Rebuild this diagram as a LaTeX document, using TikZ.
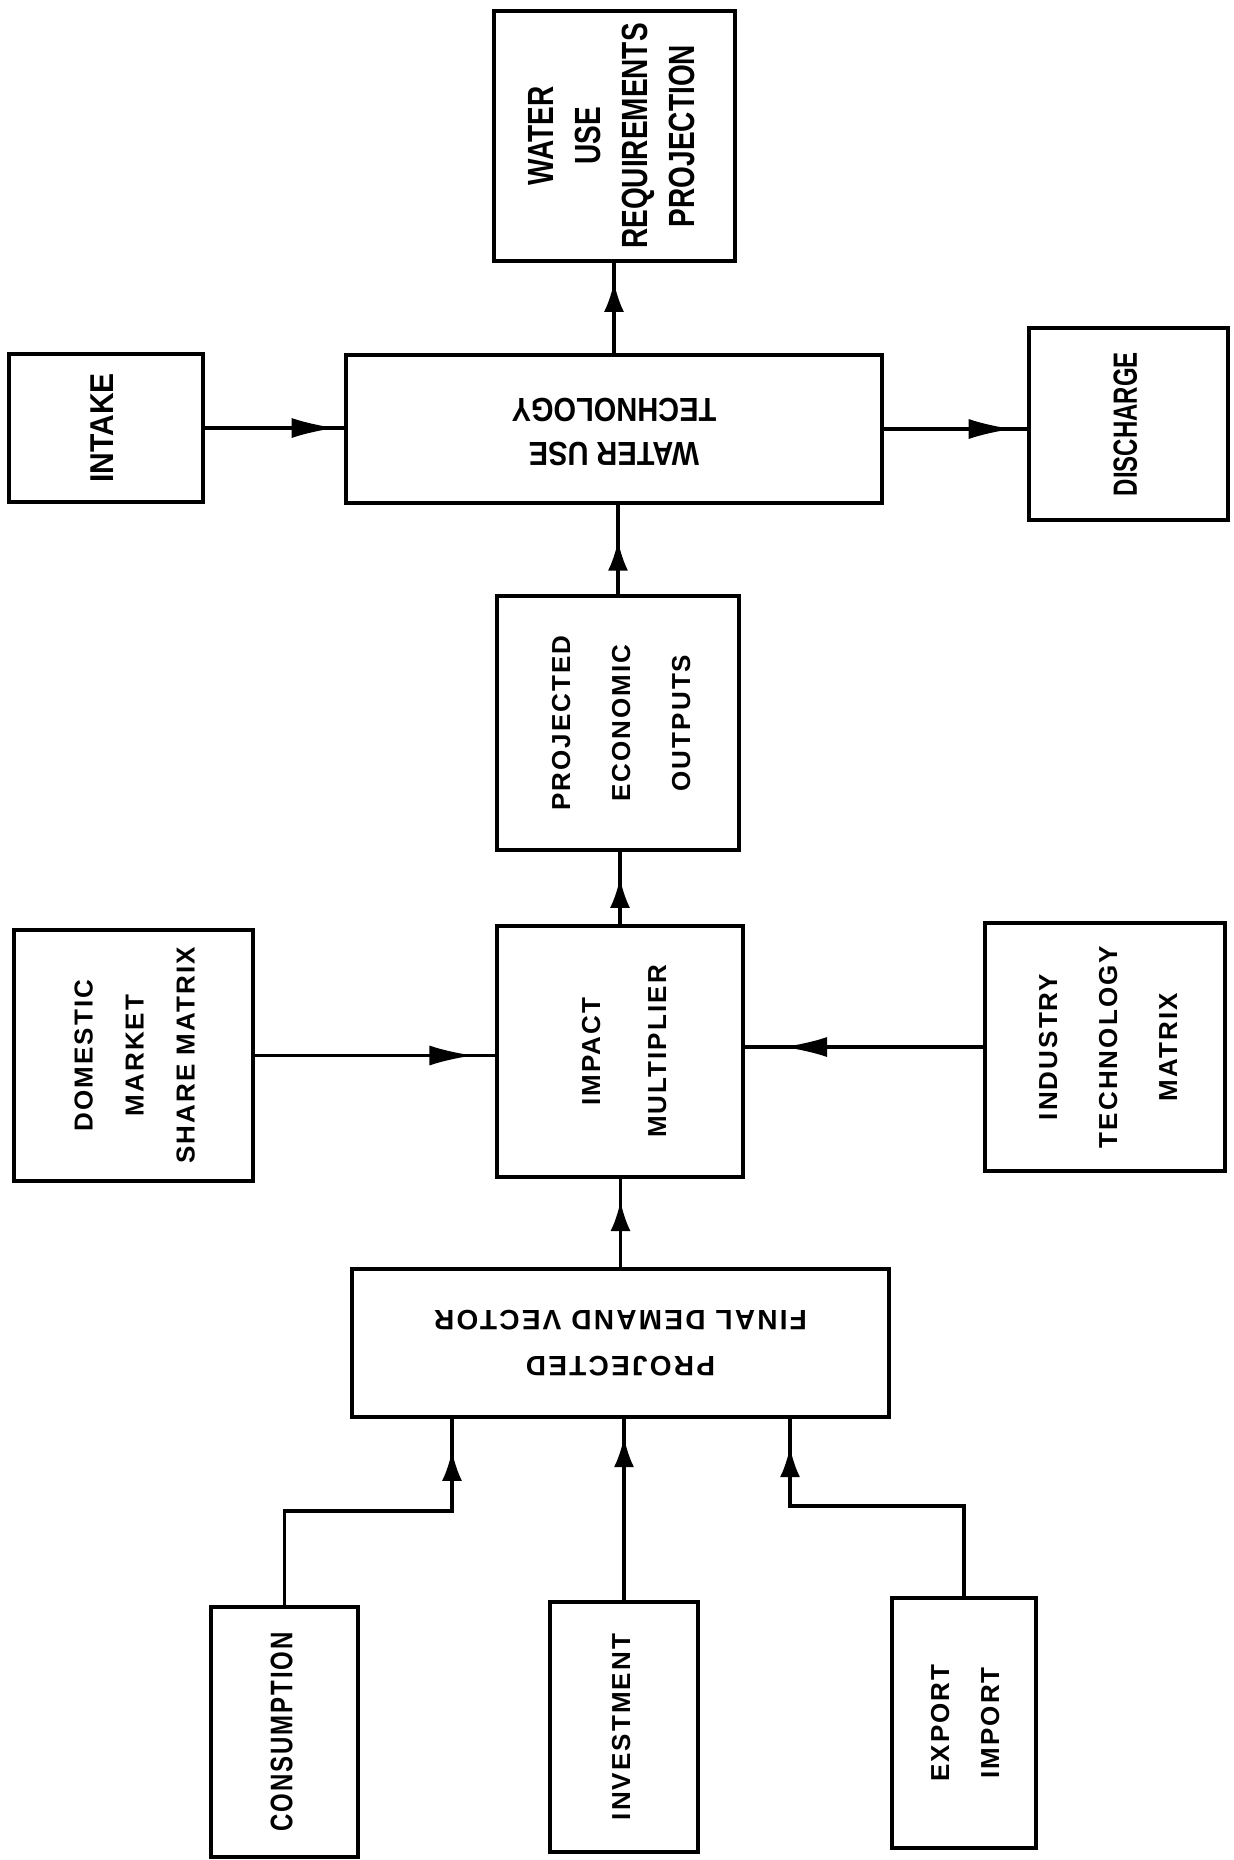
\documentclass[tikz,border=0pt]{standalone}
\usepackage{fontspec}
\setmainfont{Liberation Sans}
\newfontfamily\spacedfont[LetterSpace=8]{Liberation Sans}
\newfontfamily\heavyfont{Liberation Sans}
\usetikzlibrary{arrows.meta,decorations.markings,calc}
\newcommand{\boxtext}[5]{\rotatebox{#1}{\scalebox{1}[#4]{\fontsize{#2}{#3}\selectfont\begin{tabular}{@{}c@{}}#5\end{tabular}}}}
\tikzset{
  blk/.style={draw, line width=2pt, rectangle, inner sep=0pt},
  hv/.style={font=\heavyfont\bfseries},
  sp/.style={font=\spacedfont\bfseries},
  conn/.style={line width=1.6pt, line join=miter},
  varr/.style={decoration={markings, mark=at position #1 with {\arrow{Latex[length=15pt,width=10pt]}}}, postaction={decorate}},
  harr/.style={decoration={markings, mark=at position #1 with {\arrow{Latex[length=22pt,width=10pt]}}}, postaction={decorate}}
}
\begin{document}
\begin{tikzpicture}[x=0.5pt,y=-0.5pt]
\useasboundingbox (0,0) rectangle (1233,1860);
% boxes
\node[blk,hv,minimum width=120.5pt,minimum height=125pt] (wurp) at (614.5,136) {\boxtext{90}{14}{18}{1.3}{WATER\\USE\\REQUIREMENTS\\PROJECTION}};
\node[blk,hv,minimum width=97pt,minimum height=74pt] (intake) at (106,428) {\boxtext{90}{15}{18}{1.1}{INTAKE}};
\node[blk,hv,minimum width=268pt,minimum height=74pt] (wut) at (614,429) {\boxtext{180}{14.5}{19}{1.15}{WATER USE\\TECHNOLOGY}};
\node[blk,hv,minimum width=99.5pt,minimum height=96pt] (disch) at (1128.5,424) {\boxtext{90}{12}{15}{1.4}{DISCHARGE}};
\node[blk,sp,minimum width=121pt,minimum height=127pt] (peo) at (618,723) {\boxtext{90}{13}{30}{1}{PROJECTED\\ECONOMIC\\OUTPUTS}};
\node[blk,sp,minimum width=119.5pt,minimum height=125.5pt] (dom) at (133.5,1055.5) {\boxtext{90}{13}{25.5}{1}{DOMESTIC\\MARKET\\SHARE MATRIX}};
\node[blk,sp,minimum width=123pt,minimum height=125.5pt] (imp) at (620,1051.5) {\boxtext{90}{13}{33}{1}{IMPACT\\MULTIPLIER}};
\node[blk,sp,minimum width=120pt,minimum height=124pt] (ind) at (1105,1047) {\boxtext{90}{13}{30}{1}{INDUSTRY\\TECHNOLOGY\\MATRIX}};
\node[blk,sp,minimum width=268.5pt,minimum height=74pt] (pfdv) at (620.5,1343) {\boxtext{180}{14}{23}{1}{PROJECTED\\FINAL DEMAND VECTOR}};
\node[blk,sp,minimum width=73.5pt,minimum height=125pt] (cons) at (284.5,1732) {\boxtext{90}{12}{15}{1.3}{CONSUMPTION}};
\node[blk,sp,minimum width=74pt,minimum height=125pt] (inv) at (624,1727) {\boxtext{90}{13}{15}{1}{INVESTMENT}};
\node[blk,sp,minimum width=72pt,minimum height=125pt] (exp) at (964,1723) {\boxtext{90}{13}{25}{1}{EXPORT\\IMPORT}};
% bend points
\coordinate (c1) at (452,1511);
\coordinate (c2) at (790,1506);
% connectors
\draw[conn,varr=0.79] (wut.north) -- (wut.north |- wurp.south);
\draw[conn,varr=0.6] (peo.north) -- (peo.north |- wut.south);
\draw[conn,harr=0.94] (intake.east) -- (intake.east -| wut.west);
\draw[conn,harr=0.9] (wut.east) -- (wut.east -| disch.west);
\draw[conn,varr=0.64] (imp.north) -- (imp.north |- peo.south);
\draw[conn,harr=0.91] (dom.east) -- (dom.east -| imp.west);
\draw[conn,harr=0.84] (ind.west) -- (ind.west -| imp.east);
\draw[conn,varr=0.75] (pfdv.north) -- (pfdv.north |- imp.south);
\draw[conn,varr=0.91] (cons.north) |- (c1) -- (c1 |- pfdv.south);
\draw[conn,varr=0.9] (inv.north) -- (inv.north |- pfdv.south);
\draw[conn,varr=0.92] (exp.north) |- (c2) -- (c2 |- pfdv.south);
\end{tikzpicture}
\end{document}
